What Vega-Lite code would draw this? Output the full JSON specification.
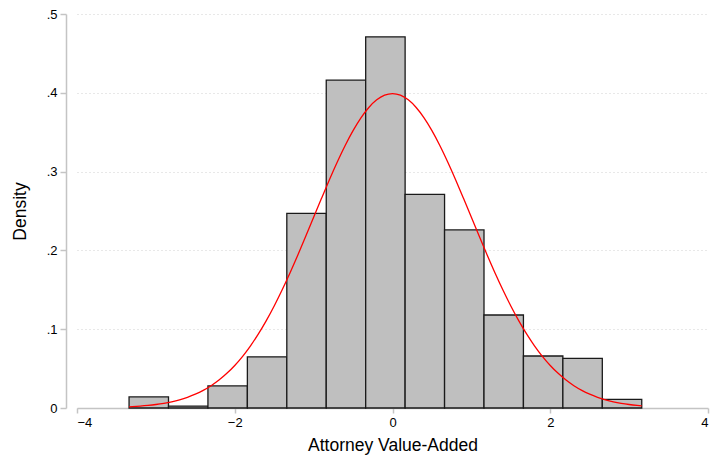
{
  "$schema": "https://vega.github.io/schema/vega-lite/v6.json",
  "width": 631,
  "height": 394,
  "autosize": "none",
  "padding": {"left": 77, "top": 14, "right": 3, "bottom": 48},
  "background": "white",
  "config": {
    "view": {"stroke": null},
    "font": "Liberation Sans",
    "axis": {
      "labelFont": "Liberation Sans",
      "titleFont": "Liberation Sans",
      "labelColor": "black",
      "titleColor": "black",
      "titleFontWeight": "normal",
      "domainColor": "#c4c4c4",
      "tickColor": "#c4c4c4",
      "domainWidth": 1.5,
      "tickWidth": 1.5
    }
  },
  "datasets": {
    "bins": [
      {"start": -3.34, "end": -2.84, "density": 0.014},
      {"start": -2.84, "end": -2.34, "density": 0.0025},
      {"start": -2.34, "end": -1.84, "density": 0.028},
      {"start": -1.84, "end": -1.34, "density": 0.065},
      {"start": -1.34, "end": -0.84, "density": 0.247},
      {"start": -0.84, "end": -0.34, "density": 0.416},
      {"start": -0.34, "end": 0.16, "density": 0.471},
      {"start": 0.16, "end": 0.66, "density": 0.271},
      {"start": 0.66, "end": 1.16, "density": 0.226},
      {"start": 1.16, "end": 1.66, "density": 0.118},
      {"start": 1.66, "end": 2.16, "density": 0.066},
      {"start": 2.16, "end": 2.66, "density": 0.063},
      {"start": 2.66, "end": 3.16, "density": 0.011}
    ],
    "curve": [
      {"v": -3.34, "dens": 0.001508},
      {"v": -3.3, "dens": 0.001723},
      {"v": -3.2, "dens": 0.002384},
      {"v": -3.1, "dens": 0.003267},
      {"v": -3.0, "dens": 0.004432},
      {"v": -2.9, "dens": 0.005953},
      {"v": -2.8, "dens": 0.007915},
      {"v": -2.7, "dens": 0.010421},
      {"v": -2.6, "dens": 0.013583},
      {"v": -2.5, "dens": 0.017528},
      {"v": -2.4, "dens": 0.022395},
      {"v": -2.3, "dens": 0.028327},
      {"v": -2.2, "dens": 0.035475},
      {"v": -2.1, "dens": 0.043984},
      {"v": -2.0, "dens": 0.053991},
      {"v": -1.9, "dens": 0.065616},
      {"v": -1.8, "dens": 0.07895},
      {"v": -1.7, "dens": 0.094049},
      {"v": -1.6, "dens": 0.110921},
      {"v": -1.5, "dens": 0.129518},
      {"v": -1.4, "dens": 0.149727},
      {"v": -1.3, "dens": 0.171369},
      {"v": -1.2, "dens": 0.194186},
      {"v": -1.1, "dens": 0.217852},
      {"v": -1.0, "dens": 0.241971},
      {"v": -0.9, "dens": 0.266085},
      {"v": -0.8, "dens": 0.289692},
      {"v": -0.7, "dens": 0.312254},
      {"v": -0.6, "dens": 0.333225},
      {"v": -0.5, "dens": 0.352065},
      {"v": -0.4, "dens": 0.36827},
      {"v": -0.3, "dens": 0.381388},
      {"v": -0.2, "dens": 0.391043},
      {"v": -0.1, "dens": 0.396953},
      {"v": 0.0, "dens": 0.398942},
      {"v": 0.1, "dens": 0.396953},
      {"v": 0.2, "dens": 0.391043},
      {"v": 0.3, "dens": 0.381388},
      {"v": 0.4, "dens": 0.36827},
      {"v": 0.5, "dens": 0.352065},
      {"v": 0.6, "dens": 0.333225},
      {"v": 0.7, "dens": 0.312254},
      {"v": 0.8, "dens": 0.289692},
      {"v": 0.9, "dens": 0.266085},
      {"v": 1.0, "dens": 0.241971},
      {"v": 1.1, "dens": 0.217852},
      {"v": 1.2, "dens": 0.194186},
      {"v": 1.3, "dens": 0.171369},
      {"v": 1.4, "dens": 0.149727},
      {"v": 1.5, "dens": 0.129518},
      {"v": 1.6, "dens": 0.110921},
      {"v": 1.7, "dens": 0.094049},
      {"v": 1.8, "dens": 0.07895},
      {"v": 1.9, "dens": 0.065616},
      {"v": 2.0, "dens": 0.053991},
      {"v": 2.1, "dens": 0.043984},
      {"v": 2.2, "dens": 0.035475},
      {"v": 2.3, "dens": 0.028327},
      {"v": 2.4, "dens": 0.022395},
      {"v": 2.5, "dens": 0.017528},
      {"v": 2.6, "dens": 0.013583},
      {"v": 2.7, "dens": 0.010421},
      {"v": 2.8, "dens": 0.007915},
      {"v": 2.9, "dens": 0.005953},
      {"v": 3.0, "dens": 0.004432},
      {"v": 3.1, "dens": 0.003267},
      {"v": 3.16, "dens": 0.002707}
    ]
  },
  "layer": [
    {
      "data": {"name": "bins"},
      "mark": {"type": "rect", "fill": "#bfbfbf", "stroke": "#1a1a1a", "strokeWidth": 1.3},
      "encoding": {
        "x": {
          "field": "start", "type": "quantitative",
          "scale": {"domain": [-4, 4], "nice": false, "zero": false},
          "axis": {
            "values": [-4, -2, 0, 2, 4],
            "format": "d",
            "title": "Attorney Value-Added",
            "titleFontSize": 17.5,
            "labelFontSize": 13,
            "tickSize": 5,
            "labelPadding": 3,
            "titlePadding": 7,
            "grid": false
          }
        },
        "x2": {"field": "end"},
        "y": {
          "field": "density", "type": "quantitative",
          "scale": {"domain": [0, 0.5], "nice": false},
          "axis": {
            "values": [0, 0.1, 0.2, 0.3, 0.4, 0.5],
            "labelExpr": "datum.value == 0 ? '0' : substring(format(datum.value, '.1f'), 1)",
            "title": "Density",
            "titleFontSize": 17.5,
            "labelFontSize": 13,
            "tickSize": 6,
            "offset": 11,
            "labelPadding": 3,
            "titlePadding": 17,
            "grid": true,
            "gridColor": "#d0d0d0",
            "gridDash": [1, 3],
            "gridWidth": 1
          }
        },
        "y2": {"datum": 0}
      }
    },
    {
      "data": {"name": "curve"},
      "mark": {"type": "line", "color": "#ff0000", "strokeWidth": 1.3, "interpolate": "monotone"},
      "encoding": {
        "x": {"field": "v", "type": "quantitative"},
        "y": {"field": "dens", "type": "quantitative"}
      }
    }
  ]
}
